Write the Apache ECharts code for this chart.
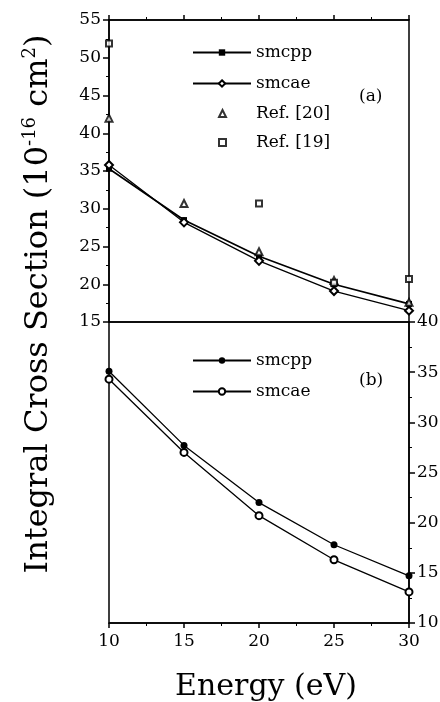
<!DOCTYPE html>
<html>
<head>
<meta charset="utf-8">
<script src="https://cdn.jsdelivr.net/npm/echarts@6.0.0/dist/echarts.min.js"></script>
<style>
  html, body { margin: 0; padding: 0; background: #fff; }
  #chart { width: 440px; height: 702px; }
</style>
</head>
<body>
<div id="chart"></div>
<script>
// energies (eV)
var energy = [10, 15, 20, 25, 30];
// panel (a)
var smcppA = [35.3, 28.5, 23.7, 20.0, 17.4];
var smcaeA = [35.8, 28.2, 23.1, 19.1, 16.5];
var ref20Energy = [10, 15, 20, 25, 30];
var ref20 = [42.0, 30.7, 24.3, 20.5, 17.6];
var ref19Energy = [10, 20, 25, 30];
var ref19 = [51.9, 30.7, 20.2, 20.7];
// panel (b)
var smcppB = [35.1, 27.7, 22.0, 17.8, 14.7];
var smcaeB = [34.3, 27.0, 20.7, 16.3, 13.1];
// axis ticks
var xTicks = [10, 30, 5];
var yTicksA = [15, 55, 5];
var yTicksB = [10, 40, 5];

var FONT = 'DejaVu Serif';

function pairs(xs, ys) {
  var out = [];
  for (var i = 0; i < xs.length; i++) {
    out.push([xs[i], ys[i]]);
  }
  return out;
}

var chartDom = document.getElementById('chart');
var myChart = echarts.init(chartDom, null, { renderer: 'canvas' });

var tickStyle = { color: '#000', width: 1.5 };
var labelStyle = { color: '#000', fontFamily: FONT, fontSize: 17 };

var option = {
  animation: false,
  backgroundColor: '#fff',
  title: [
    { text: '(a)', left: 359, top: 88, padding: 0,
      textStyle: { fontFamily: FONT, fontSize: 17, fontWeight: 'normal', color: '#000' } },
    { text: '(b)', left: 359, top: 372, padding: 0,
      textStyle: { fontFamily: FONT, fontSize: 17, fontWeight: 'normal', color: '#000' } }
  ],
  grid: [
    { left: 109, right: 31, top: 20, height: 302, show: true, borderColor: '#000', borderWidth: 1.5,
      backgroundColor: 'transparent', outerBoundsMode: 'none' },
    { left: 109, right: 31, top: 322, height: 301, show: true, borderColor: '#000', borderWidth: 1.5,
      backgroundColor: 'transparent', outerBoundsMode: 'none' }
  ],
  legend: [
    {
      data: ['smcpp', 'smcae'], orient: 'vertical', left: 192, top: 44,
      itemWidth: 58, itemHeight: 8, itemGap: 14, padding: 0,
      textStyle: { fontFamily: FONT, fontSize: 17, lineHeight: 17, color: '#000' }
    },
    {
      // symbol-only entries: narrow icon, text pushed to the same column
      data: ['Ref. [20]', 'Ref. [19]'], orient: 'vertical', left: 218, top: 105,
      itemWidth: 7, itemHeight: 7, itemGap: 12, padding: 0,
      textStyle: { fontFamily: FONT, fontSize: 17, lineHeight: 17, color: '#000', padding: [0, 0, 0, 25] }
    },
    {
      data: ['smcpp ', 'smcae '], orient: 'vertical', left: 192, top: 352,
      itemWidth: 58, itemHeight: 8, itemGap: 14, padding: 0,
      textStyle: { fontFamily: FONT, fontSize: 17, lineHeight: 17, color: '#000' }
    }
  ],
  xAxis: [
    {
      gridIndex: 0, type: 'value', position: 'top',
      min: xTicks[0], max: xTicks[1], interval: xTicks[2],
      axisLine: { show: true, lineStyle: tickStyle },
      axisTick: { show: true, inside: false, length: 5, lineStyle: tickStyle },
      minorTick: { show: true, splitNumber: 2, length: 3, lineStyle: { color: '#000', width: 1 } },
      axisLabel: { show: false },
      splitLine: { show: false }
    },
    {
      gridIndex: 1, type: 'value', position: 'bottom',
      min: xTicks[0], max: xTicks[1], interval: xTicks[2],
      name: 'Energy (eV)', nameLocation: 'middle', nameGap: 49,
      nameTextStyle: { fontFamily: FONT, fontSize: 30, color: '#000', padding: [0, 0, 0, 14] },
      axisLine: { show: true, lineStyle: tickStyle },
      axisTick: { show: true, inside: false, length: 5, lineStyle: tickStyle },
      minorTick: { show: true, splitNumber: 2, length: 3, lineStyle: { color: '#000', width: 1 } },
      axisLabel: Object.assign({ margin: 10 }, labelStyle),
      splitLine: { show: false }
    }
  ],
  yAxis: [
    {
      gridIndex: 0, type: 'value', position: 'left',
      min: yTicksA[0], max: yTicksA[1], interval: yTicksA[2],
      axisLine: { show: true, lineStyle: tickStyle },
      axisTick: { show: true, inside: false, length: 6, lineStyle: tickStyle },
      minorTick: { show: true, splitNumber: 2, length: 3, lineStyle: { color: '#000', width: 1 } },
      axisLabel: Object.assign({ margin: 8 }, labelStyle),
      splitLine: { show: false }
    },
    {
      gridIndex: 1, type: 'value', position: 'right',
      min: yTicksB[0], max: yTicksB[1], interval: yTicksB[2],
      axisLine: { show: true, lineStyle: tickStyle },
      axisTick: { show: true, inside: false, length: 6, lineStyle: tickStyle },
      minorTick: { show: true, splitNumber: 2, length: 3, lineStyle: { color: '#000', width: 1 } },
      axisLabel: Object.assign({ margin: 8 }, labelStyle),
      splitLine: { show: false }
    }
  ],
  graphic: [
    {
      type: 'text', x: 39, y: 304, rotation: Math.PI / 2,
      style: {
        text: '{a|Integral Cross Section (10}{s|-16}{a| cm}{s|2}{a|)}',
        align: 'center', verticalAlign: 'middle', fill: '#000',
        rich: {
          a: { fontFamily: FONT, fontSize: 32, lineHeight: 36, fill: '#000' },
          s: { fontFamily: FONT, fontSize: 18, lineHeight: 36, verticalAlign: 'top', fill: '#000' }
        }
      }
    }
  ],
  series: [
    {
      name: 'smcpp', type: 'line', xAxisIndex: 0, yAxisIndex: 0,
      data: pairs(energy, smcppA),
      symbol: 'rect', symbolSize: 6, showAllSymbol: true,
      itemStyle: { color: '#000' },
      lineStyle: { color: '#000', width: 1.7 }, z: 3
    },
    {
      name: 'smcae', type: 'line', xAxisIndex: 0, yAxisIndex: 0,
      data: pairs(energy, smcaeA),
      symbol: 'emptyDiamond', symbolSize: 8,
      itemStyle: { color: '#000', borderWidth: 1 },
      lineStyle: { color: '#000', width: 1.3 }, z: 3
    },
    {
      name: 'Ref. [20]', type: 'scatter', xAxisIndex: 0, yAxisIndex: 0,
      data: pairs(ref20Energy, ref20),
      symbol: 'emptyTriangle', symbolSize: 7,
      itemStyle: { color: '#000', borderWidth: 1 }, z: 4
    },
    {
      name: 'Ref. [19]', type: 'scatter', xAxisIndex: 0, yAxisIndex: 0,
      data: pairs(ref19Energy, ref19),
      symbol: 'emptyRect', symbolSize: 6,
      itemStyle: { color: '#000', borderWidth: 1 }, z: 4
    },
    {
      name: 'smcpp ', type: 'line', xAxisIndex: 1, yAxisIndex: 1,
      data: pairs(energy, smcppB),
      symbol: 'circle', symbolSize: 7,
      itemStyle: { color: '#000' },
      lineStyle: { color: '#000', width: 1.3 }, z: 3
    },
    {
      name: 'smcae ', type: 'line', xAxisIndex: 1, yAxisIndex: 1,
      data: pairs(energy, smcaeB),
      symbol: 'emptyCircle', symbolSize: 7,
      itemStyle: { color: '#000', borderWidth: 1 },
      lineStyle: { color: '#000', width: 1.3 }, z: 3
    }
  ]
};

myChart.setOption(option);
</script>
</body>
</html>
